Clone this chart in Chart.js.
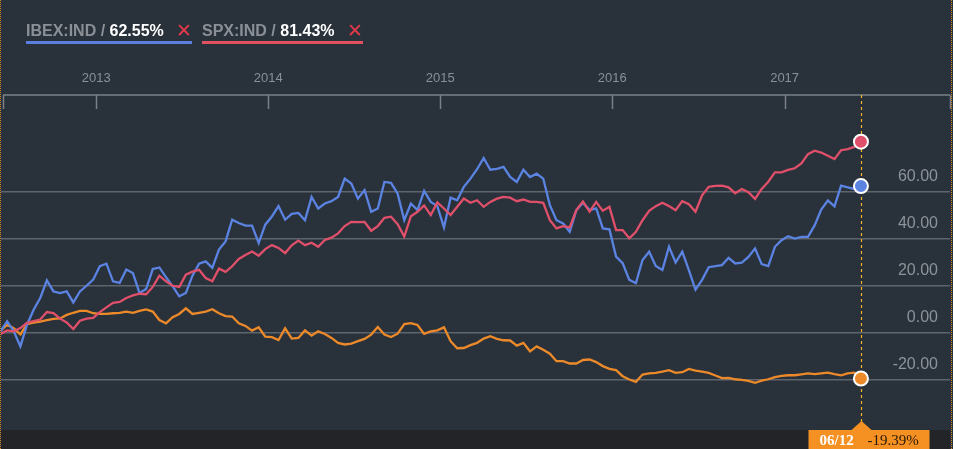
<!DOCTYPE html>
<html>
<head>
<meta charset="utf-8">
<script src="https://cdn.jsdelivr.net/npm/chart.js@4"></script>
<style>
  html, body { margin: 0; padding: 0; background: #29313b; }
  #wrap { position: relative; width: 953px; height: 449px; background: #29313b; overflow: hidden; }
  #myChart { position: absolute; left: 0; top: 0; }
  .edge { position: absolute; top: 0; height: 449px; width: 0; border-left: 1px dotted #d08a2c; }
  .legend { position: absolute; top: 18px; font: bold 16px "Liberation Sans", Arial, sans-serif; white-space: nowrap; }
  .legend .name { color: #8b9096; }
  .legend .val { color: #ffffff; }
  .legend .x { color: #e23a4a; font-weight: normal; font-size: 19px; margin-left: 12px; position: relative; top: 1px; }
  .legend .bar { position: absolute; left: 0; right: 0; top: 23px; height: 3px; }
</style>
</head>
<body>
<div id="wrap">
  <canvas id="myChart" width="953" height="449"></canvas>
  <div class="edge" style="left:0"></div>
  <div class="edge" style="left:951px"></div>
  <div class="legend" style="left:26px"><span class="name">IBEX:IND / </span><span class="val">62.55%</span><span class="x">&#x2715;</span><div class="bar" style="background:#5b7fe0"></div></div>
  <div class="legend" style="left:202px"><span class="name">SPX:IND / </span><span class="val">81.43%</span><span class="x">&#x2715;</span><div class="bar" style="background:#e0505f"></div></div>
</div>
<script>
const ctx = document.getElementById('myChart').getContext('2d');

// sampled every ~2 weeks, 2012-06-12 .. 2017-06-12 (131 points)
const startDate = Date.UTC(2012, 5, 12);
const endDate = Date.UTC(2017, 5, 12);

const ibex = [
  0.7, 5.0, 0.7, -5.7, 3.5, 9.9, 14.9, 22.4, 17.7, 17, 17.7, 13, 17.7, 20.1, 22.7, 28.4, 29.5, 22, 21.3, 27, 25.5, 17, 18.7,
  27.2, 27.9, 23.8, 19.9, 15.6, 17, 24.4, 29.5, 30.5, 27.7, 35.5, 39, 48.2, 46.8, 45.7, 45.7, 38.3, 46.1, 49.6, 54, 48.2, 50.7,
  51.1, 48, 57.9, 53, 55.1, 56.1, 57.9, 65.7, 63.6, 57.2, 60.8, 51.6, 53, 64.3, 63.9, 59.3, 48, 55.1, 52.3, 60.5, 55.8, 54,
  44.9, 57.6, 56.5, 62.2, 65.7, 69.7, 74.5, 69.5, 69.9, 70.7, 66.4, 64.3, 69.5, 66.4, 67.8, 65.7, 54.4, 48, 46.6, 43.1, 52.3, 55.4,
  52.3, 53, 44.5, 44.1, 32.5, 29.7, 22.6, 21.2, 31.1, 34.6, 28.5, 26.8, 36.7, 30, 34.6, 26.8, 18.4, 22.6, 28, 28.5, 28.9, 32,
  29.6, 29.9, 32.4, 36, 29.3, 28.5, 36.7, 39.5, 41.2, 40.2, 40.9, 40.9, 45.8, 52.5, 56.4, 53.9, 62.7, 62, 61.3, 62.55
];

const spx = [
  -0.4, 1.1, 0.7, 2.1, 4.3, 5.0, 5.7, 8.9, 8.5, 6.1, 4.5, 1.7, 5.2, 6.1, 6.4, 8.9, 10.9, 12.8, 13.2, 14.9, 16, 16.7, 16.5,
  19.6, 24.4, 22, 20.1, 19.6, 24.8, 26.1, 26.9, 23.4, 22, 27.4, 26, 28.4, 31.5, 33.2, 34.7, 32.9, 35.7, 37.4, 36.2, 34, 37.3,
  39.3, 37.4, 38.4, 36.7, 39.6, 40.6, 42.4, 45.5, 47.3, 47.2, 47.3, 43.5, 45.5, 49, 49.5, 46.3, 41, 49.7, 51.6, 54.3, 50.2, 55.6,
  53, 50.2, 53.7, 57.2, 55.4, 56.5, 53.7, 55.8, 57.2, 57.9, 57.6, 56.1, 56.8, 55.8, 55.8, 55.4, 48, 44.5, 45.5, 44.9, 52.3, 56,
  51.6, 55.8, 52, 53.7, 43.8, 43.8, 40.3, 43.1, 48, 52, 54, 55.4, 54, 52.3, 56.1, 54.8, 51.6, 58.6, 62.2, 62.6, 62.7, 62,
  59.5, 61.3, 59.9, 57.1, 61.3, 64.4, 68.4, 68.4, 69.4, 70.1, 72.2, 76.1, 77.6, 76.8, 75.4, 74, 77.8, 78.3, 79.2, 81.43
];

const main = [
  1, 3.4, 2, -0.6, 3.8, 4.4, 4.8, 5.5, 6, 6.2, 7.7, 8.6, 9.4, 9.4, 8.4, 8.1, 8.1, 8.4, 8.6, 9.1, 8.6, 9.4, 10,
  9.1, 5.5, 4.1, 6.7, 8.1, 10.5, 8.1, 8.6, 9.1, 10.1, 8.4, 7.2, 7, 4.1, 3, 1, 2.4, -1.6, -1.8, -3, 2, -2.4,
  -2.1, 1.1, -1.1, 0.7, -0.4, -2.1, -4.2, -4.9, -4.5, -3.5, -2.5, -0.7, 2.5, -0.7, -1.7, -0.3, 3.8, 4.2, 3.4, -0.4, 0.7, 1.1,
  2.4, -3.5, -6.5, -6.4, -5.2, -4.2, -2.4, -1.4, -2.5, -3.1, -3.2, -5.4, -4.2, -7.8, -5.7, -7.1, -8.8, -12, -12, -13, -13, -11.5,
  -11.3, -12.4, -14.1, -15.3, -15.8, -18.4, -19.8, -20.8, -17.7, -17.2, -17, -16.5, -15.8, -17, -16.7, -15.3, -16, -16.5, -17, -18.1, -19.2, -19.1,
  -19.7, -20, -20.4, -21.2, -20.3, -19.7, -18.8, -18.3, -18, -18, -17.6, -17.2, -17.5, -17.2, -16.9, -17.5, -18, -17.2, -16.9, -19.39
];

const yearTicks = [2013, 2014, 2015, 2016, 2017];
const yTicks = [-20, 0, 20, 40, 60];
const tagDate = '06/12';
const tagValue = '-19.39%';

const step = (endDate - startDate) / (main.length - 1);
const toPts = arr => arr.map((v, i) => ({x: startDate + i * step, y: v}));
const last = main.length - 1;

function lineSet(label, arr, color) {
  return {
    label: label,
    data: toPts(arr),
    borderColor: color,
    backgroundColor: color,
    borderWidth: 2.3,
    tension: 0,
    pointRadius: c => c.dataIndex === last ? 7 : 0,
    pointBackgroundColor: color,
    pointBorderColor: '#ffffff',
    pointBorderWidth: 2,
    fill: false
  };
}

const decor = {
  id: 'decor',
  beforeDatasetsDraw(chart) {
    const {ctx, chartArea: a, scales: {x, y}} = chart;
    ctx.save();
    // bottom band
    ctx.fillStyle = '#222427';
    ctx.fillRect(a.left, a.bottom, a.right - a.left, chart.height - a.bottom);
    // top axis line + ticks
    ctx.strokeStyle = '#7b8086';
    ctx.lineWidth = 1.5;
    ctx.beginPath();
    ctx.moveTo(a.left + 2, a.top); ctx.lineTo(a.right, a.top);
    const tx = yearTicks.map(yr => x.getPixelForValue(Date.UTC(yr, 0, 1)));
    tx.push(a.left + 2, a.right);
    tx.forEach(px => { ctx.moveTo(Math.round(px) + 0.5, a.top); ctx.lineTo(Math.round(px) + 0.5, a.top + 14); });
    ctx.stroke();
    // year labels
    ctx.fillStyle = '#8a9097';
    ctx.font = '13px "Liberation Sans", Arial, sans-serif';
    ctx.textAlign = 'center';
    ctx.textBaseline = 'middle';
    yearTicks.forEach(yr => ctx.fillText(String(yr), x.getPixelForValue(Date.UTC(yr, 0, 1)), 78));
    // y labels
    ctx.font = '16px "Liberation Sans", Arial, sans-serif';
    ctx.textAlign = 'right';
    ctx.fillStyle = '#8d9399';
    yTicks.forEach(v => ctx.fillText(v.toFixed(2), a.right - 12, y.getPixelForValue(v) - 15));
    // cursor line
    const cx = Math.round(x.getPixelForValue(endDate)) + 0.5;
    ctx.strokeStyle = '#f2b425';
    ctx.lineWidth = 1.2;
    ctx.setLineDash([3, 3]);
    ctx.beginPath();
    ctx.moveTo(cx, a.top); ctx.lineTo(cx, a.bottom - 8);
    ctx.stroke();
    ctx.setLineDash([]);
    // tag
    ctx.fillStyle = '#f59023';
    ctx.fillRect(cx - 53, a.bottom, 121, chart.height - a.bottom);
    ctx.beginPath();
    ctx.moveTo(cx - 10, a.bottom); ctx.lineTo(cx, a.bottom - 9); ctx.lineTo(cx + 10, a.bottom);
    ctx.fill();
    ctx.textAlign = 'left';
    ctx.font = 'bold 15px "Liberation Serif", "Times New Roman", serif';
    ctx.fillStyle = '#ffffff';
    ctx.fillText(tagDate, cx - 42, a.bottom + 11);
    ctx.font = '15px "Liberation Serif", "Times New Roman", serif';
    ctx.fillStyle = '#2a1a08';
    ctx.fillText(tagValue, cx + 6, a.bottom + 11);
    ctx.restore();
  }
};

const config = {
  type: 'line',
  data: {
    datasets: [
      lineSet('SPX:IND', spx, '#e0506a'),
      lineSet('IBEX:IND', ibex, '#5b83e2'),
      lineSet('main', main, '#ec8a2a')
    ]
  },
  options: {
    responsive: false,
    animation: false,
    devicePixelRatio: 1,
    layout: {autoPadding: false, padding: {top: 95, bottom: 19, left: 1, right: 3}},
    elements: {point: {hoverRadius: 7}},
    scales: {
      x: {
        type: 'linear',
        display: false,
        min: Date.UTC(2012, 5, 13),
        max: Date.UTC(2017, 11, 18)
      },
      y: {
        position: 'right',
        min: -41.3,
        max: 101.3,
        afterBuildTicks: s => { s.ticks = yTicks.map(v => ({value: v})); },
        ticks: {display: false},
        border: {display: false},
        grid: {color: '#5f656c', lineWidth: 1.5, drawTicks: false}
      }
    },
    plugins: {
      legend: {display: false},
      tooltip: {enabled: false}
    }
  },
  plugins: [decor]
};

const myChart = new Chart(ctx, config);
</script>
</body>
</html>
